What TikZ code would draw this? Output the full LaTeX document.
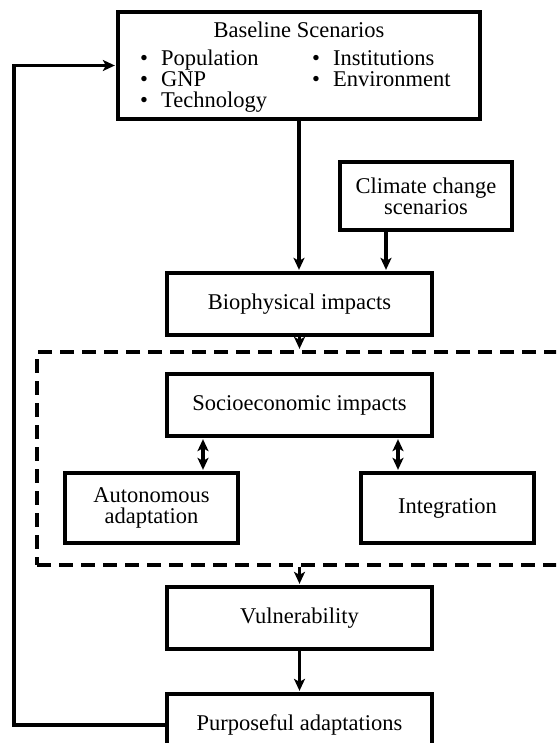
\documentclass[tikz,border=0pt]{standalone}
\usepackage{fontspec}
\setmainfont{Liberation Serif}
\usetikzlibrary{arrows.meta}
\tikzset{
	blk/.style={draw, line width=3.3pt, inner sep=0pt, align=center, font=\fontsize{22.5}{21}\selectfont},
	txt/.style={inner sep=0pt, font=\fontsize{22.5}{21}\selectfont},
	lnk/.style={line width=3.2pt, shorten >=1.5pt, -{Stealth[length=12pt,width=11pt,inset=3pt]}},
	dlnk/.style={line width=3.2pt, shorten >=1.5pt, shorten <=1.5pt, {Stealth[length=12pt,width=11pt,inset=3pt]}-{Stealth[length=12pt,width=11pt,inset=3pt]}},
	grpbox/.style={draw, line width=3.3pt, dash pattern=on 14pt off 8pt, inner sep=0pt},
}
\newcommand{\bul}[1]{\makebox[21pt][l]{\textbullet}#1}

\begin{document}
\begin{tikzpicture}[x=1pt, y=-1pt]
		%%%%% START %%%%%
		\useasboundingbox (0, 0) rectangle (556, 743);
		\clip (0, 0) rectangle (556, 743);
		
		% baseline box with its list
		\node[blk, minimum width=362pt, minimum height=107pt] (base) at (299, 65.5) {};
		\node[txt, anchor=base] (ttl) at (299, 37.5) {Baseline Scenarios};
		\node[txt, anchor=base west] (pop) at (140, 65.5) {\bul{Population}};
		\node[txt, anchor=base west] (gnp) at (140, 86.5) {\bul{GNP}};
		\node[txt, anchor=base west] (tec) at (140, 108) {\bul{Technology}};
		\node[txt, anchor=base west] (ins) at (312, 65.5) {\bul{Institutions}};
		\node[txt, anchor=base west] (env) at (312, 86.5) {\bul{Environment}};
		
		\node[blk, minimum width=172pt, minimum height=68pt] (clim) at (426, 196) {Climate change\\scenarios};
		\node[blk, minimum width=265pt, minimum height=62pt] (bio) at (299.5, 304) {Biophysical impacts};
		
		% dashed group
		\node[grpbox, minimum width=583pt, minimum height=213pt] (grp) at (328.5, 458.5) {};
		\node[blk, minimum width=265pt, minimum height=62pt] (soc) at (299.5, 405) {Socioeconomic impacts};
		\node[blk, minimum width=173pt, minimum height=70pt] (aut) at (151.5, 508) {Autonomous\\adaptation};
		\node[blk, minimum width=173pt, minimum height=70pt] (intg) at (447.5, 508) {Integration};
		
		\node[blk, minimum width=265pt, minimum height=62pt] (vul) at (299.5, 618) {Vulnerability};
		\node[blk, minimum width=265pt, minimum height=62pt] (pur) at (299.5, 725) {Purposeful adaptations};
		
		\coordinate (fb) at (14, 0);
		
		\draw[lnk] (base.south) -- (base.south |- bio.north);
		\draw[lnk] ([xshift=-40pt]clim.south) -- ([xshift=-40pt]clim.south |- bio.north);
		\draw[lnk] (bio.south) -- (bio.south |- grp.north);
		\draw[dlnk] ([xshift=-96.5pt]soc.south) -- ([xshift=-96.5pt]soc.south |- aut.north);
		\draw[dlnk] ([xshift=98.5pt]soc.south) -- ([xshift=98.5pt]soc.south |- intg.north);
		\draw[lnk] (vul.north |- grp.south) -- (vul.north);
		\draw[lnk] (vul.south) -- (pur.north);
		\draw[lnk, line join=miter] (pur.west) -- (pur.west -| fb) -- (fb |- base.west) -- (base.west);
		
		%%%%% END %%%%%
	\end{tikzpicture}
\end{document}
